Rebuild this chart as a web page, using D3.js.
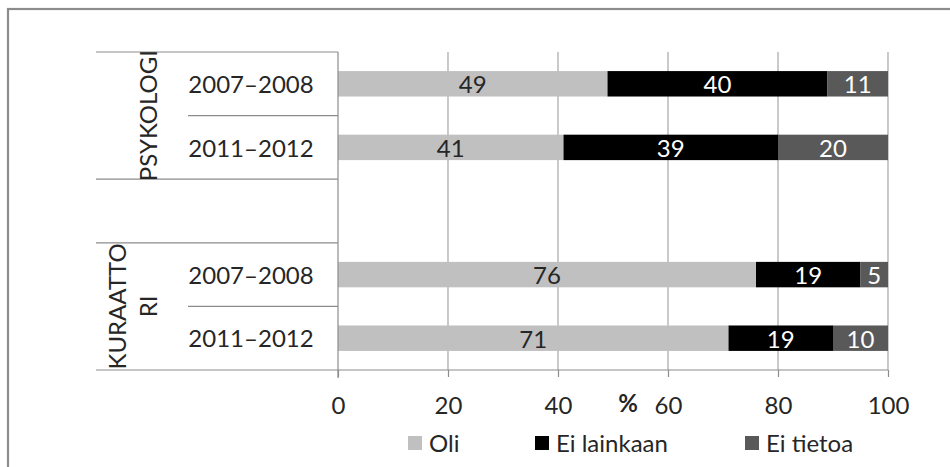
<!DOCTYPE html>
<html>
<head>
<meta charset="utf-8">
<script src="https://cdn.jsdelivr.net/npm/d3@7"></script>
<style>
  html, body { margin: 0; padding: 0; background: #fff; }
  svg { display: block; font-family: Lato, "Open Sans", sans-serif; }
</style>
</head>
<body>
<svg id="chart" width="950" height="467"></svg>
<script>
// Share of respondents per professional group and survey period (%)
const groups = ["PSYKOLOGI", "KURAATTORI"];
const groupLabelLines = [["PSYKOLOGI"], ["KURAATTO", "RI"]];
const periods = ["2007–2008", "2011–2012"];
const seriesNames = ["Oli", "Ei lainkaan", "Ei tietoa"];
const seriesColors = ["#c0c0c0", "#000000", "#595959"];
const labelColors = ["#262626", "#ffffff", "#ffffff"];

// rows: PSYKOLOGI 2007–2008, PSYKOLOGI 2011–2012, (spacer), KURAATTORI 2007–2008, KURAATTORI 2011–2012
const rowGroups = ["PSYKOLOGI", "PSYKOLOGI", null, "KURAATTORI", "KURAATTORI"];
const rowPeriods = ["2007–2008", "2011–2012", null, "2007–2008", "2011–2012"];
const oli = [49, 41, null, 76, 71];
const eiLainkaan = [40, 39, null, 19, 19];
const eiTietoa = [11, 20, null, 5, 10];
const xTicks = [0, 20, 40, 60, 80, 100];
const xAxisTitle = "%";

const svg = d3.select("#chart");

// Outer chart frame
svg.append("rect")
  .attr("x", 8).attr("y", 9)
  .attr("width", 1000).attr("height", 1000)
  .attr("fill", "none").attr("stroke", "#8c8c8c").attr("stroke-width", 2.2);

const plot = { left: 338, right: 888, top: 52, bottom: 370 };
const catLeft = 96, subLeft = 188;

const rowIds = rowGroups.map((g, i) => g ? g + "|" + rowPeriods[i] : "spacer");
const y = d3.scaleBand().domain(rowIds).range([plot.top, plot.bottom]).paddingInner(0).paddingOuter(0);
const x = d3.scaleLinear().domain([0, 100]).range([plot.left, plot.right]);
const barH = y.bandwidth() / 2.5;

const rows = rowIds.map((id, i) => ({ id, values: [oli[i], eiLainkaan[i], eiTietoa[i]] }))
  .filter(r => r.values[0] != null);
const stack = d3.stack().keys([0, 1, 2]).value((d, k) => d.values[k]);
const layers = stack(rows);

// Vertical gridlines
svg.append("g").selectAll("line")
  .data(xTicks.filter(t => t > 0))
  .join("line")
  .attr("x1", d => x(d)).attr("x2", d => x(d))
  .attr("y1", plot.top).attr("y2", plot.bottom)
  .attr("stroke", "#a6a6a6").attr("stroke-width", 1.2);

// Stacked bars
const layerG = svg.append("g").selectAll("g")
  .data(layers)
  .join("g")
  .attr("fill", (d, i) => seriesColors[i]);

layerG.selectAll("rect")
  .data(d => d)
  .join("rect")
  .attr("x", d => x(d[0]))
  .attr("width", d => x(d[1]) - x(d[0]))
  .attr("y", d => y(d.data.id) + (y.bandwidth() - barH) / 2)
  .attr("height", barH);

// Value labels inside the segments
layers.forEach((layer, i) => {
  svg.append("g").selectAll("text")
    .data(layer)
    .join("text")
    .attr("x", d => (x(d[0]) + x(d[1])) / 2)
    .attr("y", d => y(d.data.id) + y.bandwidth() / 2)
    .attr("dy", "0.4em")
    .attr("text-anchor", "middle")
    .attr("font-size", 24)
    .attr("fill", labelColors[i])
    .text(d => d.data.values[i]);
});

// Value axis at the bottom
const xAxis = svg.append("g")
  .attr("transform", `translate(0,${plot.bottom})`)
  .call(d3.axisBottom(x).tickValues(xTicks).tickSize(7).tickPadding(20).tickFormat(d3.format("d")));
xAxis.select(".domain").remove();
xAxis.selectAll(".tick line").attr("stroke", "#8c8c8c").attr("stroke-width", 1.2);
xAxis.selectAll(".tick text")
  .attr("font-family", "Lato, sans-serif").attr("font-size", 24).attr("fill", "#262626");

svg.append("text")
  .attr("x", 628).attr("y", 412)
  .attr("text-anchor", "middle")
  .attr("font-size", 24).attr("font-weight", "bold").attr("fill", "#262626")
  .text(xAxisTitle);

// Category axis: line along the bars and horizontal divider lines
const axisStroke = "#8c8c8c";
svg.append("line")
  .attr("x1", x(0)).attr("x2", x(0)).attr("y1", plot.top).attr("y2", plot.bottom + 8)
  .attr("stroke", axisStroke).attr("stroke-width", 1.2);
svg.append("line")
  .attr("x1", catLeft).attr("x2", plot.right).attr("y1", plot.bottom).attr("y2", plot.bottom)
  .attr("stroke", axisStroke).attr("stroke-width", 1.2);

const boundaries = rowIds.map((id, i) => ({ yPos: y(id), i }));
const dividers = svg.append("g");
boundaries.forEach(b => {
  const prev = rowGroups[b.i - 1];
  const cur = rowGroups[b.i];
  const full = b.i === 0 || prev !== cur;
  dividers.append("line")
    .attr("x1", full ? catLeft : subLeft).attr("x2", x(0))
    .attr("y1", b.yPos).attr("y2", b.yPos)
    .attr("stroke", axisStroke).attr("stroke-width", 1.2);
});

// Period labels
svg.append("g").selectAll("text")
  .data(rowIds.filter(id => id !== "spacer"))
  .join("text")
  .attr("x", 251)
  .attr("y", d => y(d) + y.bandwidth() / 2)
  .attr("dy", "0.38em")
  .attr("text-anchor", "middle")
  .attr("font-size", 24).attr("fill", "#262626")
  .text(d => d.split("|")[1]);

// Group labels, rotated
groups.forEach((g, gi) => {
  const ids = rowIds.filter((id, i) => rowGroups[i] === g);
  const y0 = y(ids[0]);
  const y1 = y(ids[ids.length - 1]) + y.bandwidth();
  const lines = groupLabelLines[gi];
  lines.forEach((ln, li) => {
    const cx = 148 - (lines.length - 1 - li) * 31;
    svg.append("text")
      .attr("transform", `translate(${cx},${(y0 + y1) / 2}) rotate(-90)`)
      .attr("dy", "0.36em")
      .attr("text-anchor", "middle")
      .attr("font-size", 24).attr("fill", "#262626")
      .text(ln);
  });
});

// Legend
const legendX = [408, 535, 745];
const legend = svg.append("g").selectAll("g")
  .data(seriesNames)
  .join("g")
  .attr("transform", (d, i) => `translate(${legendX[i]},443)`);
legend.append("rect")
  .attr("x", 0).attr("y", -7).attr("width", 14).attr("height", 14)
  .attr("fill", (d, i) => seriesColors[i]);
legend.append("text")
  .attr("x", 21).attr("dy", "0.36em")
  .attr("font-size", 24).attr("fill", "#262626")
  .text(d => d);
</script>
</body>
</html>
